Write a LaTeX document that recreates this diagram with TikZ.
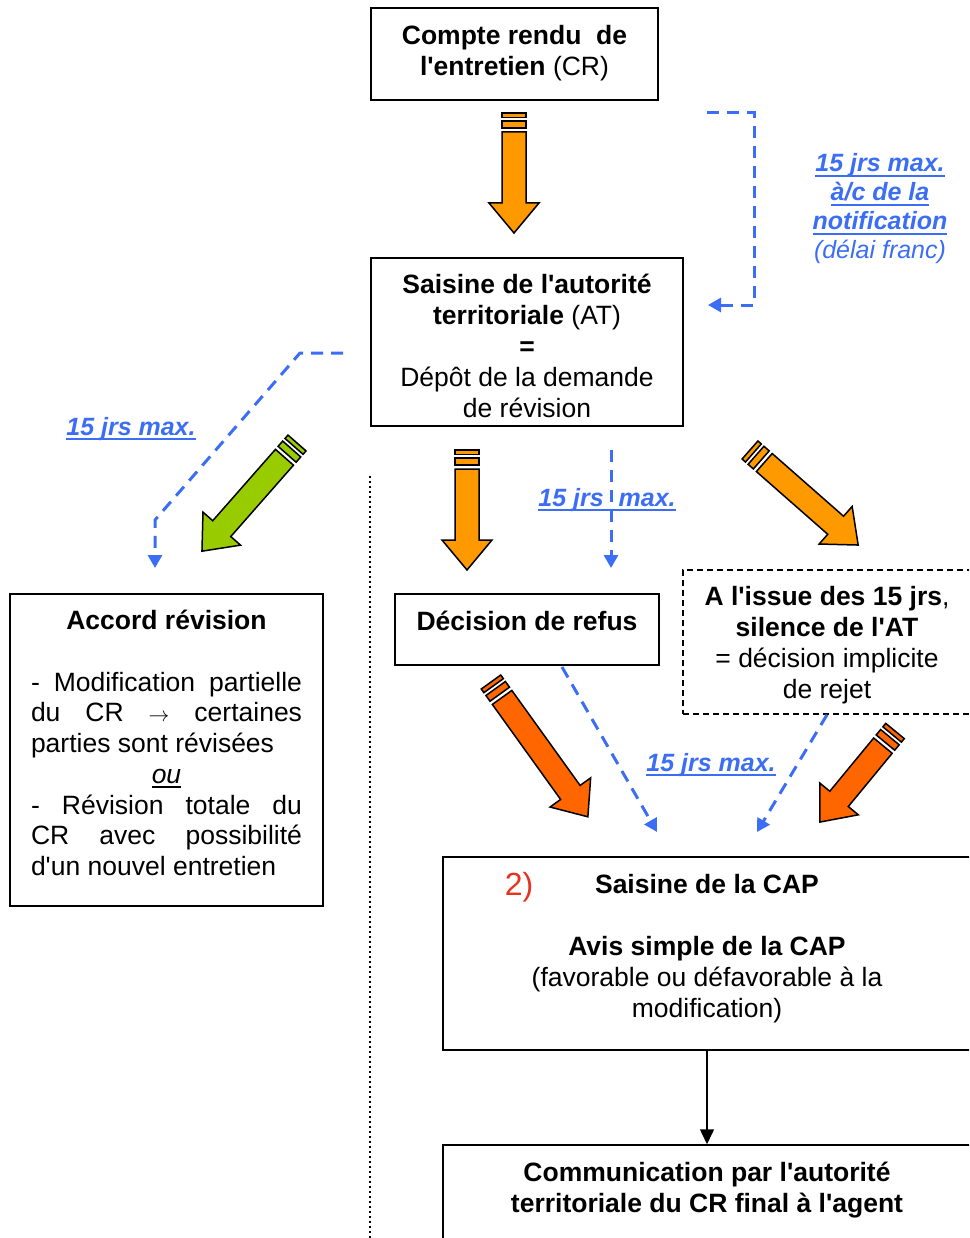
\documentclass[tikz,border=0pt]{standalone}
\usepackage{fontspec}
\setmainfont{Liberation Sans}[Ligatures=TeXOff]
\usetikzlibrary{arrows.meta}

\definecolor{orangeA}{RGB}{255,153,0}
\definecolor{greenA}{RGB}{153,204,0}
\definecolor{redA}{RGB}{255,102,0}
\definecolor{blueD}{RGB}{60,110,245}
\definecolor{redT}{RGB}{230,50,30}

\newsavebox{\undlbox}
\newcommand{\undl}[1]{\sbox{\undlbox}{#1}\rlap{\rule[-5pt]{\wd\undlbox}{2pt}}\usebox{\undlbox}}
% struts for first and last line of a box
\newcommand{\tstrut}[1]{\rule{0pt}{#1pt}}
\newcommand{\bstrut}[1]{\rule[-#1pt]{0pt}{#1pt}}

\tikzset{
  box/.style={draw, line width=1.5pt, align=center, inner sep=0pt,
    font=\fontsize{26.5}{31}\selectfont},
  delay/.style={text=blueD, inner sep=0pt,
    font=\fontsize{25}{29}\selectfont\bfseries\itshape},
  blueline/.style={blueD, line width=3pt, dash pattern=on 12pt off 8pt,
    -{Triangle[length=13pt,width=14pt]}},
  pics/fatarrow/.style 2 args={code={
    \filldraw[fill=#2, line width=1.5pt, line join=miter] (0,-12) rectangle (4.5,12);
    \filldraw[fill=#2, line width=1.5pt, line join=miter] (8,-12) rectangle (15,12);
    \filldraw[fill=#2, line width=1.5pt, line join=miter] (19,-12) -- ({#1-30},-12)
      -- ({#1-30},-25) -- (#1,0) -- ({#1-30},25) -- ({#1-30},12) -- (19,12) -- cycle;
  }}
}

\begin{document}
\begin{tikzpicture}[x=1pt,y=-1pt]
\useasboundingbox (0,0) rectangle (969,1238);
\clip (0,0) rectangle (969,1238);

% Drawing boxes
\node[box, minimum width=287pt, minimum height=92pt] (ncr) at (514.5,54)
  {\tstrut{26}\textbf{Compte rendu\ \ de}\\\textbf{l'entretien} (CR)\bstrut{14}};
\node[box, minimum width=312pt, minimum height=168pt] (nat) at (527,342)
  {\tstrut{34}\textbf{Saisine de l'autorité}\\\textbf{territoriale} (AT)\\\textbf{=}\\Dépôt de la demande\\de révision\bstrut{7}};
\node[box, minimum width=313pt, minimum height=312pt,
  font=\fontsize{26.5}{30.75}\selectfont] (naccord) at (166.5,750)
  {\tstrut{26}\textbf{Accord révision}\\\mbox{}\\
   \makebox[271pt][s]{- Modification partielle}\\
   \makebox[271pt][s]{du CR {\fontsize{20}{20}\selectfont$\rightarrow$} certaines}\\
   \makebox[271pt][l]{parties sont révisées}\\
   \undl{\textit{ou}}\\
   \makebox[271pt][s]{- Révision totale du}\\
   \makebox[271pt][s]{CR avec possibilité}\\
   \makebox[271pt][l]{d'un nouvel entretien}\bstrut{21}};
\node[box, minimum width=264pt, minimum height=71pt] (nrefus) at (527,629.5)
  {\tstrut{26}\textbf{Décision de refus}\bstrut{24}};
\node[box, dash pattern=on 6pt off 4pt, minimum width=288pt, minimum height=144pt] (nsilence) at (827,642)
  {\tstrut{28}\textbf{A l'issue des 15 jrs},\\\textbf{silence de l'AT}\\= décision implicite\\de rejet\bstrut{8}};
\node[box, minimum width=528pt, minimum height=193pt] (ncap) at (707,953.5)
  {\tstrut{26}\textbf{Saisine de la CAP}\\\mbox{}\\\textbf{Avis simple de la CAP}\\(favorable ou défavorable à la\\modification)\bstrut{22}};
\node[box, minimum width=528pt, minimum height=100pt] (ncomm) at (707,1195)
  {\tstrut{26}\textbf{Communication par l'autorité}\\\textbf{territoriale du CR final à l'agent}\bstrut{22}};
\node[inner sep=0pt, text=redT, font=\fontsize{32}{36}\selectfont] (ntwo) at (519,887) {2)};

% Drawing separator
\draw[line width=2pt, dash pattern=on 2pt off 3pt] (370,476) -- (370,1238);

% Drawing block arrows
\pic[rotate=-90] at (514,113) {fatarrow={120}{orangeA}};
\pic[rotate=-90] at (467,450) {fatarrow={120}{orangeA}};
\pic[rotate=-131.3] at (297,443) {fatarrow={144}{greenA}};
\pic[rotate=-41.3] at (750,450) {fatarrow={144}{orangeA}};
\pic[rotate=-54.3] at (491,682) {fatarrow={166}{redA}};
\pic[rotate=-129.5] at (895,731) {fatarrow={118}{redA}};

% Drawing delays
\coordinate (d1s) at (707,113);
\coordinate (d1e) at (708,305);
\coordinate (d2s) at (343,353);
\coordinate (d2e) at (155,568);
\coordinate (d3s) at (611,450);
\coordinate (d3e) at (611,568);
\coordinate (d4s) at (562,667);
\coordinate (d4e) at (657,832);
\coordinate (d5e) at (757,832);
\draw[blueline] (d1s) -- ++(47,0) |- (d1e);
\draw[blueline] (d2s) -- ++(-43,0) -- (155,520) -- (d2e);
\draw[blueline] (d3s) -- (d3e);
\draw[blueline] (d4s) -- (d4e);
\draw[blueline] (nsilence.south) -- (d5e);

\node[delay, align=center] (ldelai) at (880,209)
  {\undl{15 jrs max.}\\\undl{à/c de la}\\\undl{notification}\\\mdseries(délai franc)};
\node[delay, anchor=base] (ljrsa) at (131,435) {\undl{15 jrs max.}};
\node[delay, anchor=base] (ljrsb) at (607,506) {\undl{15 jrs\hspace{15pt}max.}};
\node[delay, anchor=base] (ljrsc) at (711,771) {\undl{15 jrs max.}};

% Drawing final step
\draw[line width=1.5pt, -{Triangle[length=15pt,width=14pt]}] (ncap.south) -- (ncomm.north);
\end{tikzpicture}
\end{document}
